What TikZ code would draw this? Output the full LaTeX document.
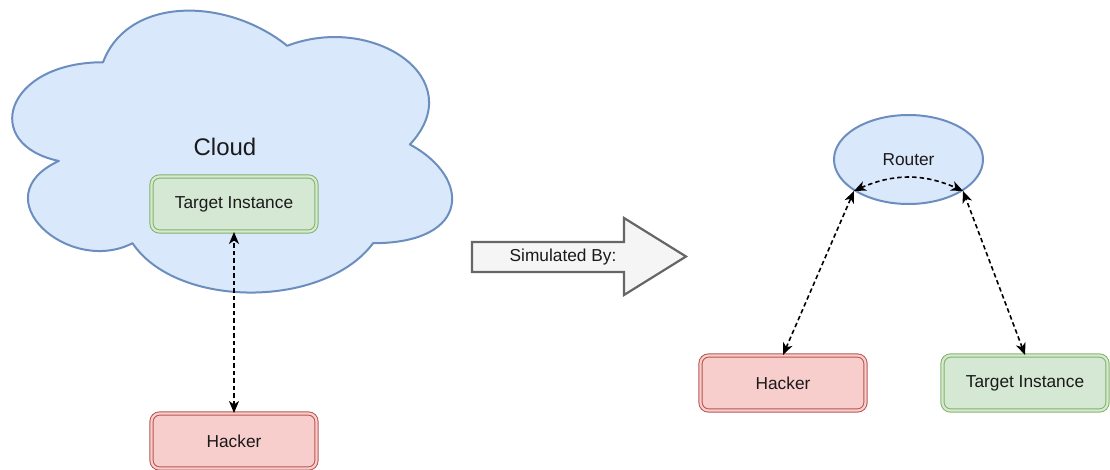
\documentclass[tikz,border=0pt]{standalone}
\usepackage{fontspec}
\setmainfont{Liberation Sans}
\usetikzlibrary{shapes.geometric,arrows.meta,bending}
\definecolor{cloudfill}{HTML}{DAE8FC}
\definecolor{cloudline}{HTML}{6C8EBF}
\definecolor{redfill}{HTML}{F8CECC}
\definecolor{redline}{HTML}{B85450}
\definecolor{greenfill}{HTML}{D5E8D4}
\definecolor{greenline}{HTML}{82B366}
\definecolor{arrowfill}{HTML}{F5F5F5}
\definecolor{arrowline}{HTML}{666666}
\definecolor{txt}{HTML}{1A1A1A}
\begin{document}
\begin{tikzpicture}[x=1pt,y=-1pt,
  lbl/.style={font=\fontsize{17.3}{20}\selectfont, text=txt},
  dblbox/.style={rounded corners=8pt, minimum width=165pt, minimum height=55pt,
    inner sep=0pt, line width=1pt, double distance=2.2pt, lbl},
  redbox/.style={dblbox, draw=redline, double=redfill, fill=redfill},
  greenbox/.style={dblbox, draw=greenline, double=greenfill, fill=greenfill},
  cloudshape/.style={draw=cloudline, fill=cloudfill, line width=2pt, line join=round},
  routershape/.style={ellipse, draw=cloudline, fill=cloudfill, line width=2pt,
    minimum width=149pt, minimum height=89pt, inner sep=0pt, lbl},
  bigarrow/.style={draw=arrowline, fill=arrowfill, line width=2.2pt},
  conn/.style={draw=black, line width=1.6pt, dash pattern=on 4.5pt off 3pt,
    arrows={Stealth[length=12pt,width=10pt,inset=3.5pt]-Stealth[length=12pt,width=10pt,inset=3.5pt]}}
]
\useasboundingbox (0,0) rectangle (1110,470);

% cloud
\draw[cloudshape] (103.05,62.25) .. controls (4.85,62.25) and (-19.7,144.5) .. (58.86,160.95)
 .. controls (-19.7,197.14) and (68.68,276.1) .. (132.51,243.2)
 .. controls (176.7,309) and (324,309) .. (373.1,243.2)
 .. controls (471.3,243.2) and (471.3,177.4) .. (409.9,144.5)
 .. controls (471.3,78.7) and (373.1,12.9) .. (287.2,45.8)
 .. controls (225.8,-3.55) and (127.6,-3.55) .. (103.05,62.25) -- cycle;
\node[font=\fontsize{24}{28}\selectfont, text=txt] (cloudlbl) at (225,147) {Cloud};

% left side
\node[greenbox] (targetL) at (234,204) {Target Instance};
\node[redbox] (hackerL) at (234,441) {Hacker};
\draw[conn] (hackerL.north) -- (targetL.south);

% big arrow
\draw[bigarrow] (472,242) -- (624,242) -- (624,218) -- (686,256.5) -- (624,295)
  -- (624,272) -- (472,272) -- cycle;
\node[lbl] (sim) at (563,257) {Simulated By:};

% right side
\node[routershape] (router) at (908.5,159.5) {Router};
\node[redbox] (hackerR) at (783,383) {Hacker};
\node[greenbox] (targetR) at (1025,383) {Target Instance};
\draw[conn] (hackerR.north) -- (router.210);
\draw[conn] (targetR.north) -- (router.330);
\draw[conn] (router.210) to[bend left=26] (router.330);
\end{tikzpicture}
\end{document}
